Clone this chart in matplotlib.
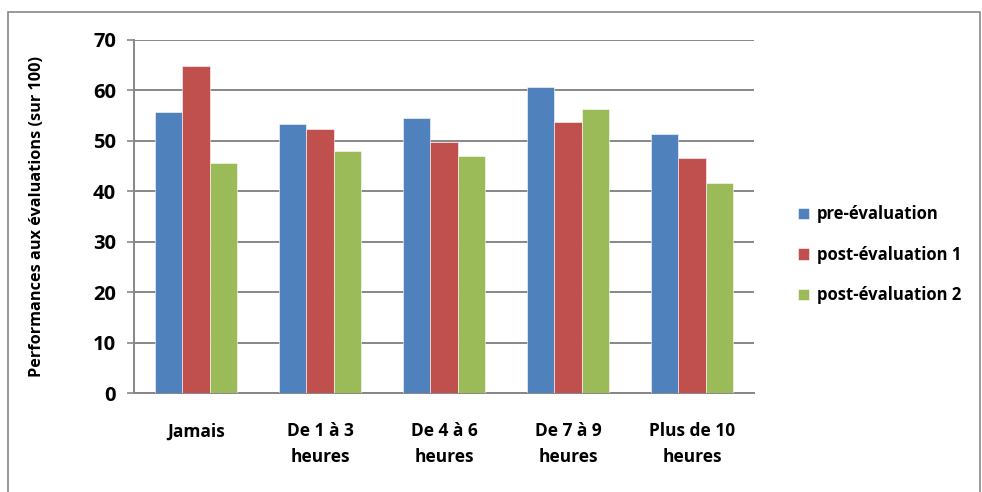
import matplotlib
matplotlib.use("Agg")
import matplotlib.pyplot as plt
import numpy as np
from matplotlib.patches import Rectangle

categories = ["Jamais", "De 1 à 3\nheures", "De 4 à 6\nheures", "De 7 à 9\nheures", "Plus de 10\nheures"]
series_names = ["pre-évaluation", "post-évaluation 1", "post-évaluation 2"]
pre_eval = [55.7, 53.3, 54.6, 60.6, 51.3]
post_eval1 = [64.8, 52.3, 49.7, 53.7, 46.5]
post_eval2 = [45.6, 48.0, 46.9, 56.3, 41.7]
colors = ["#4f81bd", "#c0504d", "#9bbb59"]

plt.rcParams["font.family"] = ["Open Sans", "DejaVu Sans"]
plt.rcParams["font.weight"] = "bold"

fig = plt.figure(figsize=(9.82, 4.92), dpi=100)
ax = fig.add_axes([0.1365, 0.201, 0.6315, 0.718])

x = np.arange(len(categories))
w = 0.222
for i, (vals, name) in enumerate(zip([pre_eval, post_eval1, post_eval2], series_names)):
    ax.bar(x + (i - 1) * w, vals, width=w, color=colors[i], label=name,
           edgecolor="white", linewidth=0.4, zorder=3)

ax.set_xlim(-0.5, len(categories) - 0.5)
ax.set_ylim(0, 70)
ax.set_yticks(range(0, 71, 10))
ax.yaxis.grid(True, color="#878787", linewidth=1.4, zorder=0)
ax.set_axisbelow(True)
for s in ["top", "right"]:
    ax.spines[s].set_visible(False)
for s in ["left", "bottom"]:
    ax.spines[s].set_color("#878787")
    ax.spines[s].set_linewidth(1.4)
ax.tick_params(axis="y", length=5, color="#878787", width=1.2, labelsize=14.5, pad=8)
ax.tick_params(axis="x", length=0, labelsize=12.5, pad=21)
ax.set_xticks(x)
ax.set_xticklabels(categories, fontweight="bold", linespacing=1.55)
for t in ax.get_yticklabels():
    t.set_fontweight("bold")

fig.text(0.038, 0.56, "Performances aux évaluations (sur 100)", rotation=90,
         ha="center", va="center", fontsize=11.7, fontweight="bold")

fig.legend(loc="center left", bbox_to_anchor=(0.797, 0.482), frameon=False,
           handlelength=0.7, handleheight=0.7, handletextpad=0.45,
           labelspacing=1.35, prop={"size": 12, "weight": "bold"})

fig.add_artist(Rectangle((0.008, -0.01), 0.99, 0.985, transform=fig.transFigure,
                         fill=False, edgecolor="#878787", linewidth=1.2))

fig.savefig("out.png", dpi=100)
